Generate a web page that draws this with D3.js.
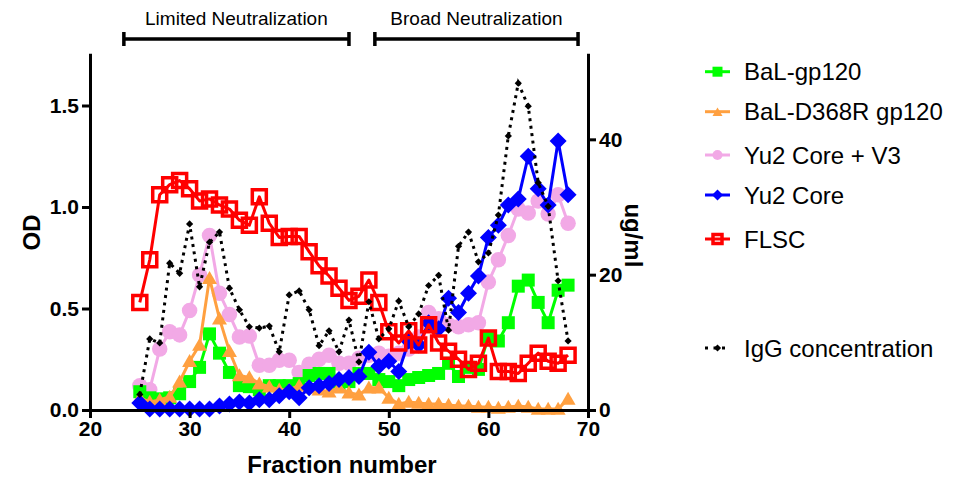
<!DOCTYPE html>
<html>
<head>
<meta charset="utf-8">
<script src="https://cdn.jsdelivr.net/npm/d3@7"></script>
<style>
body{margin:0;background:#fff;}
svg{display:block;font-family:"Liberation Sans",Arial,sans-serif;}
</style>
</head>
<body>
<div id="app"></div>
<script>
const fractions = [25,26,27,28,29,30,31,32,33,34,35,36,37,38,39,40,41,42,43,44,45,46,
	47,48,49,50,51,52,53,54,55,56,57,58,59,60,61,62,63,64,65,66,67,68];

const balGp120 = [0.09,0.06,0.055,0.06,0.08,0.14,0.21,0.375,0.28,0.185,0.12,0.115,0.10,0.12,0.12,0.12,0.13,0.17,0.18,0.18,0.13,0.14,
	0.18,0.18,0.15,0.14,0.12,0.15,0.16,0.17,0.18,0.23,0.165,0.21,0.20,0.36,0.34,0.43,0.61,0.64,0.53,0.43,0.59,0.615];
const balD368R = [0.06,0.04,0.05,0.065,0.14,0.24,0.32,0.65,0.45,0.29,0.17,0.16,0.13,0.115,0.10,0.10,0.12,0.11,0.10,0.09,0.11,0.085,
	0.075,0.11,0.11,0.06,0.03,0.04,0.035,0.03,0.03,0.025,0.02,0.02,0.015,0.015,0.01,0.015,0.02,0.015,0.005,0.005,0.005,0.055];
const yu2CoreV3 = [0.12,0.10,0.30,0.385,0.37,0.49,0.665,0.86,0.575,0.47,0.36,0.365,0.22,0.22,0.245,0.245,0.185,0.225,0.25,0.27,0.23,0.23,
	0.255,0.27,0.28,0.265,0.28,0.30,0.36,0.48,0.45,0.42,0.41,0.42,0.43,0.63,0.74,0.86,0.99,0.97,1.03,0.965,1.06,0.92];
const yu2Core = [0.035,0.005,0.005,0.005,0.005,0.005,0.005,0.005,0.02,0.03,0.04,0.035,0.05,0.05,0.07,0.09,0.06,0.11,0.12,0.13,0.15,0.16,
	0.165,0.285,0.215,0.24,0.19,0.34,0.32,0.43,0.40,0.55,0.48,0.575,0.66,0.85,0.91,1.01,1.04,1.25,1.09,1.01,1.325,1.06];
const flsc = [0.53,0.74,1.06,1.11,1.13,1.09,1.03,1.04,1.01,0.99,0.935,0.91,1.05,0.92,0.85,0.855,0.855,0.78,0.71,0.66,0.60,0.54,
	0.56,0.64,0.53,0.385,0.33,0.39,0.32,0.42,0.33,0.29,0.25,0.20,0.23,0.355,0.19,0.19,0.18,0.23,0.28,0.24,0.23,0.27];
// IgG concentration, ug/ml (right axis)
const iggConc = [2.3,10.5,9.9,21.7,20.2,27.5,18.2,24.8,26.3,18.0,14.8,12.3,12.1,12.4,8.6,17.0,17.6,14.8,9.5,11.7,8.6,13.3,
	7.1,16.0,10.5,12.0,16.1,12.3,14.2,18.4,19.9,11.8,24.2,26.3,21.9,23.2,28.8,40.5,48.3,44.9,33.6,30.1,19.1,10.2];

const seriesNames = ["BaL-gp120","BaL-D368R gp120","Yu2 Core + V3","Yu2 Core","FLSC"];
const iggName = "IgG concentration";
const odTicks = [0,0.5,1.0,1.5];
const iggTicks = [0,20,40];
const fractionTicks = [20,30,40,50,60,70];
const bracketLabels = ["Limited Neutralization","Broad Neutralization"];
const bracketRanges = [[23.4,46.0],[48.6,69.0]];

const W = 954, H = 486;
const mLeft = 90, mRight = 588, mTop = 54.75, mBottom = 410;

var x = d3.scaleLinear().domain([20,70]).range([mLeft,mRight]);
var y = d3.scaleLinear().domain([0,1.75]).range([mBottom,mTop]);
var y2 = d3.scaleLinear().domain([0,52.5]).range([mBottom,mTop]);

var svg = d3.select("#app").append("svg").attr("width",W).attr("height",H);

// style per series, same order as names
var styles = [
	{data: balGp120, color:"#00ff00", sym:"square", size:13},
	{data: balD368R, color:"#ffa040", sym:"triangle", size:15},
	{data: yu2CoreV3, color:"#f2a9e6", sym:"circle", size:15.5},
	{data: yu2Core, color:"#0000ff", sym:"diamond", size:17},
	{data: flsc, color:"#ff0000", sym:"open", size:14}
];

function symPath(sym, s){
	if(sym=="square") return d3.symbol(d3.symbolSquare, s*s)();
	if(sym=="open") return d3.symbol(d3.symbolSquare, s*s)();
	if(sym=="circle") return d3.symbol(d3.symbolCircle, Math.PI*s*s/4)();
	if(sym=="triangle") return d3.symbol(d3.symbolTriangle, Math.sqrt(3)/4*s*s)();
	if(sym=="diamond") return d3.symbol(d3.symbolSquare, s*s/2)();
}
function drawMarks(g, st, pts, s){
	g.selectAll("path.m").data(pts).enter().append("path")
		.attr("class","m")
		.attr("d", symPath(st.sym, s))
		.attr("transform", function(p){
			return "translate("+p[0]+","+p[1]+")"+(st.sym=="diamond" ? " rotate(45)" : "")+(st.sym=="triangle" ? " translate(0,1.5)" : "");
		})
		.attr("fill", st.sym=="open" ? "none" : st.color)
		.attr("stroke", st.sym=="open" ? st.color : "none")
		.attr("stroke-width", st.sym=="open" ? 3.5 : 0);
}

var line = d3.line();
var plot = svg.append("g");
var order = [2,0,1,3,4];
order.forEach(function(k){
	var st = styles[k];
	var pts = st.data.map(function(v,i){ return [x(fractions[i]), y(v)]; });
	var g = plot.append("g");
	g.append("path").attr("d", line(pts)).attr("fill","none")
		.attr("stroke", st.color).attr("stroke-width",3).attr("stroke-linejoin","round");
	drawMarks(g, st, pts, st.size);
});

// IgG on right axis, dotted
var iggPts = iggConc.map(function(v,i){ return [x(fractions[i]), y2(v)]; });
var gi = plot.append("g");
gi.append("path").attr("d", line(iggPts)).attr("fill","none")
	.attr("stroke","#000").attr("stroke-width",3).attr("stroke-dasharray","3,4.5");
gi.selectAll("path.m").data(iggPts).enter().append("path")
	.attr("d", d3.symbol(d3.symbolSquare, 26)())
	.attr("transform", function(p){ return "translate("+p[0]+","+p[1]+") rotate(45)"; })
	.attr("fill","#000");

// axes
function styleAxis(g){
	g.select(".domain").attr("stroke-width",3).attr("stroke-linecap","square");
	g.selectAll(".tick line").attr("stroke-width",3);
	g.selectAll(".tick text").attr("font-size",21).attr("font-weight","bold")
		.attr("font-family","Liberation Sans, Arial, sans-serif").attr("fill","#000");
}
svg.append("g").attr("transform","translate("+mLeft+",0)")
	.call(d3.axisLeft(y).tickValues(odTicks).tickFormat(d3.format(".1f")).tickSize(8).tickSizeOuter(0).tickPadding(3))
	.call(styleAxis);
svg.append("g").attr("transform","translate("+mRight+",0)")
	.call(d3.axisRight(y2).tickValues(iggTicks).tickFormat(d3.format("d")).tickSize(8).tickSizeOuter(0).tickPadding(3))
	.call(styleAxis);
svg.append("g").attr("transform","translate(0,"+mBottom+")")
	.call(d3.axisBottom(x).tickValues(fractionTicks).tickFormat(d3.format("d")).tickSize(8).tickSizeOuter(0).tickPadding(3))
	.call(styleAxis);

// axis titles
svg.append("text").attr("transform","translate(40,"+((mTop+mBottom)/2)+") rotate(-90)")
	.attr("text-anchor","middle").attr("font-size",24).attr("font-weight","bold").text("OD");
svg.append("text").attr("transform","translate(625,"+((mTop+mBottom)/2+3)+") rotate(90)")
	.attr("text-anchor","middle").attr("font-size",24).attr("font-weight","bold").text("ug/ml");
svg.append("text").attr("x",(mLeft+mRight)/2+3).attr("y",473)
	.attr("text-anchor","middle").attr("font-size",24).attr("font-weight","bold").text("Fraction number");

// neutralization brackets
bracketRanges.forEach(function(r,i){
	var x0 = x(r[0]), x1 = x(r[1]), g = svg.append("g");
	g.append("path").attr("d","M"+x0+",39H"+x1+"M"+x0+",32V46M"+x1+",32V46")
		.attr("stroke","#000").attr("stroke-width",3.5).attr("fill","none");
	g.append("text").attr("x",(x0+x1)/2).attr("y",25).attr("text-anchor","middle")
		.attr("font-size",19).text(bracketLabels[i]);
});

// legend
var rowY = [71.7,111.7,155,195,239];
seriesNames.forEach(function(name,i){
	var st = styles[i], g = svg.append("g");
	g.append("line").attr("x1",705).attr("x2",730).attr("y1",rowY[i]).attr("y2",rowY[i])
		.attr("stroke",st.color).attr("stroke-width",3);
	drawMarks(g, st, [[717.5,rowY[i]]], st.sym=="open" ? 9 : (st.sym=="diamond" ? 11 : 10));
	g.append("text").attr("x",744).attr("y",rowY[i]+8.6).attr("font-size",24).text(name);
});
var lg = svg.append("g");
lg.append("line").attr("x1",705).attr("x2",730).attr("y1",348).attr("y2",348)
	.attr("stroke","#000").attr("stroke-width",3).attr("stroke-dasharray","3,5.5");
lg.append("path").attr("d", d3.symbol(d3.symbolSquare, 26)())
	.attr("transform","translate(717.5,348) rotate(45)").attr("fill","#000");
lg.append("text").attr("x",744).attr("y",356.6).attr("font-size",24).text(iggName);
</script>
</body>
</html>
